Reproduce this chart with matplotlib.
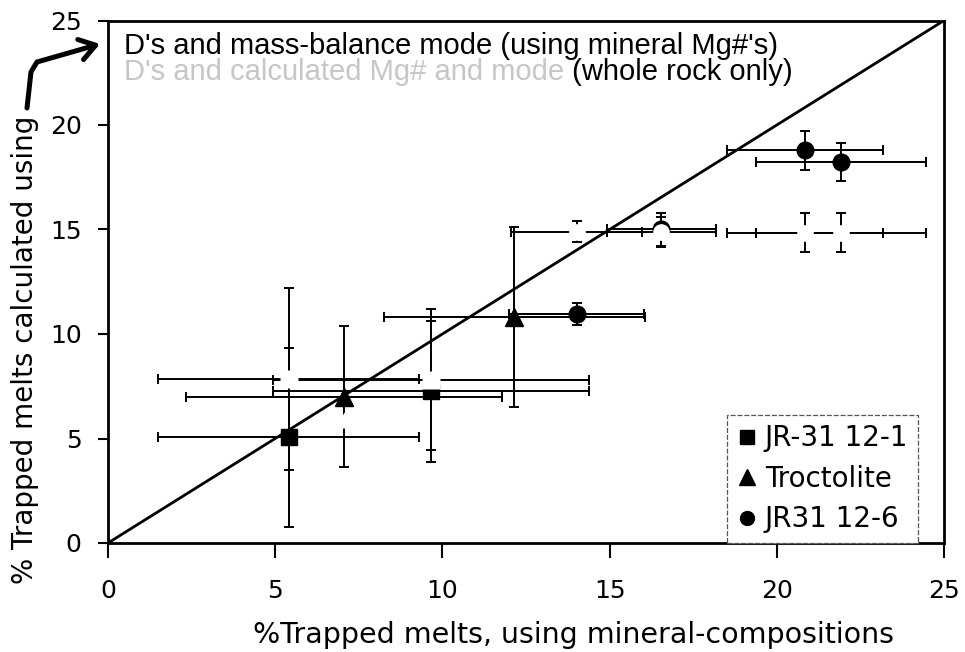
import matplotlib
matplotlib.use("Agg")
import matplotlib.pyplot as plt
from matplotlib.lines import Line2D
from matplotlib.patches import FancyArrowPatch
from matplotlib.path import Path

# --- D's and mass-balance mode (mineral Mg#'s): filled symbols ---
sq_x = [5.40, 9.65]
sq_y = [5.05, 7.26]
sq_xerr = [3.90, 4.73]
sq_yerr = [4.30, 3.37]

tri_x = [7.05, 12.15]
tri_y = [7.00, 10.81]
tri_xerr = [4.73, 3.90]
tri_yerr = [3.38, 4.32]

circ_x = [14.02, 16.55, 20.84, 21.92]
circ_y = [10.95, 15.00, 18.78, 18.24]
circ_xerr = [2.02, 1.63, 2.33, 2.54]
circ_yerr = [0.52, 0.78, 0.95, 0.91]

# --- D's and calculated Mg# and mode (whole rock only): white symbols ---
wr_sq_x = [5.40, 9.65]
wr_sq_y = [7.84, 7.82]
wr_sq_xerr = [3.90, 4.73]
wr_sq_yerr = [4.35, 3.37]

wr_tri_x = [7.05]
wr_tri_y = [5.90]

wr_circ_x = [14.02, 16.55, 20.84, 21.92]
wr_circ_y = [14.90, 14.87, 14.85, 14.85]
wr_circ_xerr = [1.96, 1.63, 2.33, 2.54]
wr_circ_yerr = [0.52, 0.73, 0.92, 0.92]

legend_labels = ["JR-31 12-1", "Troctolite", "JR31 12-6"]
ticks = [0, 5, 10, 15, 20, 25]
one_to_one = [0, 25]

W, H = 965, 652
fig = plt.figure(figsize=(W / 100, H / 100), dpi=100)
ax = fig.add_axes([108 / W, 1 - 543 / H, 836 / W, 522.5 / H])

ebkw = dict(ecolor="black", elinewidth=1.4, capsize=3.5, capthick=1.4, ls="none")

# filled symbols
ax.errorbar(sq_x, sq_y, xerr=sq_xerr, yerr=sq_yerr, fmt="s", ms=12,
            mfc="black", mec="black", zorder=3, **ebkw)
ax.errorbar(tri_x, tri_y, xerr=tri_xerr, yerr=tri_yerr, fmt="^", ms=13,
            mfc="black", mec="black", zorder=3, **ebkw)
ax.errorbar(circ_x, circ_y, xerr=circ_xerr, yerr=circ_yerr, fmt="o", ms=12,
            mfc="black", mec="black", zorder=3, **ebkw)

# white symbols (whole rock only)
ax.errorbar(wr_sq_x, wr_sq_y, xerr=wr_sq_xerr, yerr=wr_sq_yerr, fmt="s", ms=12.5,
            mfc="white", mec="none", zorder=4, **ebkw)
ax.plot(wr_tri_x, wr_tri_y, "^", ms=11, mfc="white", mec="none", zorder=4.2)
ax.errorbar(wr_circ_x, wr_circ_y, xerr=wr_circ_xerr, yerr=wr_circ_yerr, fmt="o", ms=12,
            mfc="white", mec="none", zorder=4, **ebkw)

# 1:1 line
ax.plot(one_to_one, one_to_one, color="black", lw=2.0, zorder=5)

ax.set_xlim(0, 25)
ax.set_ylim(0, 25)
ax.set_xticks(ticks)
ax.set_yticks(ticks)
for s in ax.spines.values():
    s.set_linewidth(2.0)
ax.tick_params(axis="both", direction="out", width=1.5, labelsize=18)
ax.tick_params(axis="x", length=11, pad=15)
ax.tick_params(axis="y", length=7, pad=12)
for lab in ax.get_xticklabels() + ax.get_yticklabels():
    lab.set_family("DejaVu Sans")

# legend
handles = [
    Line2D([], [], marker="s", color="black", ls="none", ms=10),
    Line2D([], [], marker="^", color="black", ls="none", ms=11),
    Line2D([], [], marker="o", color="black", ls="none", ms=10),
]
leg = ax.legend(handles, legend_labels, loc="lower right", bbox_to_anchor=(0.969, 0.0),
                borderaxespad=0, frameon=True, fancybox=False, edgecolor="#555555",
                framealpha=1, prop={"family": "DejaVu Sans", "size": 20},
                handlelength=0.7, handletextpad=0.3, labelspacing=0.45, borderpad=0.35)
leg.get_frame().set_linewidth(0.9)
leg.get_frame().set_linestyle((0, (4, 1.5)))
leg.set_zorder(6)

# series descriptions
tkw = dict(fontsize=21, family="Liberation Sans", va="baseline", ha="left")
ax.text(0.48, 23.4, "D's and mass-balance mode (using mineral Mg#'s)", color="black", **tkw)
t2 = ax.text(0.48, 22.15, "D's and calculated Mg# and mode", color="#c6c6c6", **tkw)
ax.annotate(" (whole rock only)", xy=(1, 0), xycoords=t2, va="bottom", ha="left",
            fontsize=21, family="Liberation Sans", color="black")

# axis titles
fig.text(573.5 / W, 1 - 643 / H, "%Trapped melts, using mineral-compositions",
         ha="center", va="baseline", fontsize=20.5, family="DejaVu Sans")
fig.text(25 / W, 1 - 350 / H, "% Trapped melts calculated using", rotation=90,
         ha="center", va="center", fontsize=20, family="DejaVu Sans")

# curved arrow pointing at the first description line
pts = [(27, 108), (31, 72), (37, 62), (100, 44)]
verts = [(x / W, 1 - y / H) for x, y in pts]
codes = [Path.MOVETO, Path.LINETO, Path.LINETO, Path.LINETO]
arrow = FancyArrowPatch(path=Path(verts, codes), transform=fig.transFigure,
                        arrowstyle="->,head_length=0.45,head_width=0.3",
                        mutation_scale=25, lw=3.6, color="black",
                        joinstyle="round", capstyle="round")
fig.add_artist(arrow)

fig.savefig("out.png", dpi=100)
